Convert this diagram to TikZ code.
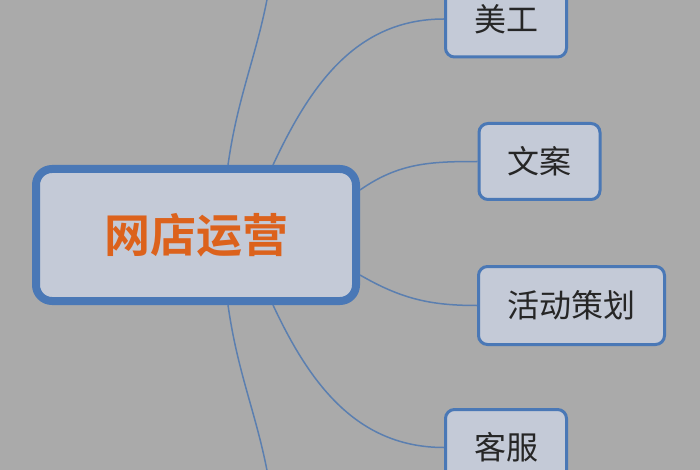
\documentclass[tikz,border=0pt]{standalone}
\usepackage{fontspec}
\setmainfont{Noto Sans CJK SC}[BoldFont={Noto Sans CJK SC Bold}]
\usepackage{tikz}
\usetikzlibrary{positioning}
\definecolor{bggray}{HTML}{AAAAAA}
\definecolor{boxfill}{HTML}{C4CAD7}
\definecolor{edgeblue}{HTML}{4A78B6}
\definecolor{linkblue}{HTML}{5B7FB0}
\definecolor{titleorange}{HTML}{DC621C}
\tikzstyle{hub} = [draw=edgeblue, line width=8pt, rounded corners=16pt,
    fill=boxfill, minimum width=320pt, minimum height=132pt,
    text=titleorange, font=\fontsize{46}{50}\selectfont\bfseries]
\tikzstyle{task} = [draw=edgeblue, line width=3pt, rounded corners=9pt,
    fill=boxfill, minimum height=76pt, text=black!85,
    font=\fontsize{32}{36}\selectfont]
\tikzstyle{link} = [draw=linkblue, line width=1.5pt]

\begin{document}
\begin{tikzpicture}[x=1pt, y=-1pt]
  \fill[bggray] (0,0) rectangle (700,470);
  \useasboundingbox (0,0) rectangle (700,470);
  \clip (0,0) rectangle (700,470);
  % Place nodes
  \node [hub] (shop) at (196,235) {网店运营};
  \node [task, minimum width=121pt] (art) at (506,19) {美工};
  \node [task, minimum width=121pt] (copy) at (539.5,161.5) {文案};
  \node [task, minimum width=186pt, minimum height=78pt] (plan) at (571.5,305.5) {活动策划};
  \node [task, minimum width=121pt] (service) at (506,447.5) {客服};
  \coordinate (up) at (272,-30);
  \coordinate (down) at (272,500);
  % Draw links
  \draw [link] ([xshift=32pt]shop.north) to [out=82,in=-98] (up);
  \draw [link] ([xshift=77pt]shop.north) to [out=65,in=180] (art.west);
  \draw [link] ([yshift=45pt]shop.east) to [out=35,in=180] (copy.west);
  \draw [link] ([yshift=-40pt]shop.east) to [out=-30,in=180] (plan.west);
  \draw [link] ([xshift=77pt]shop.south) to [out=-65,in=180] (service.west);
  \draw [link] ([xshift=32pt]shop.south) to [out=-82,in=98] (down);
\end{tikzpicture}
\end{document}
